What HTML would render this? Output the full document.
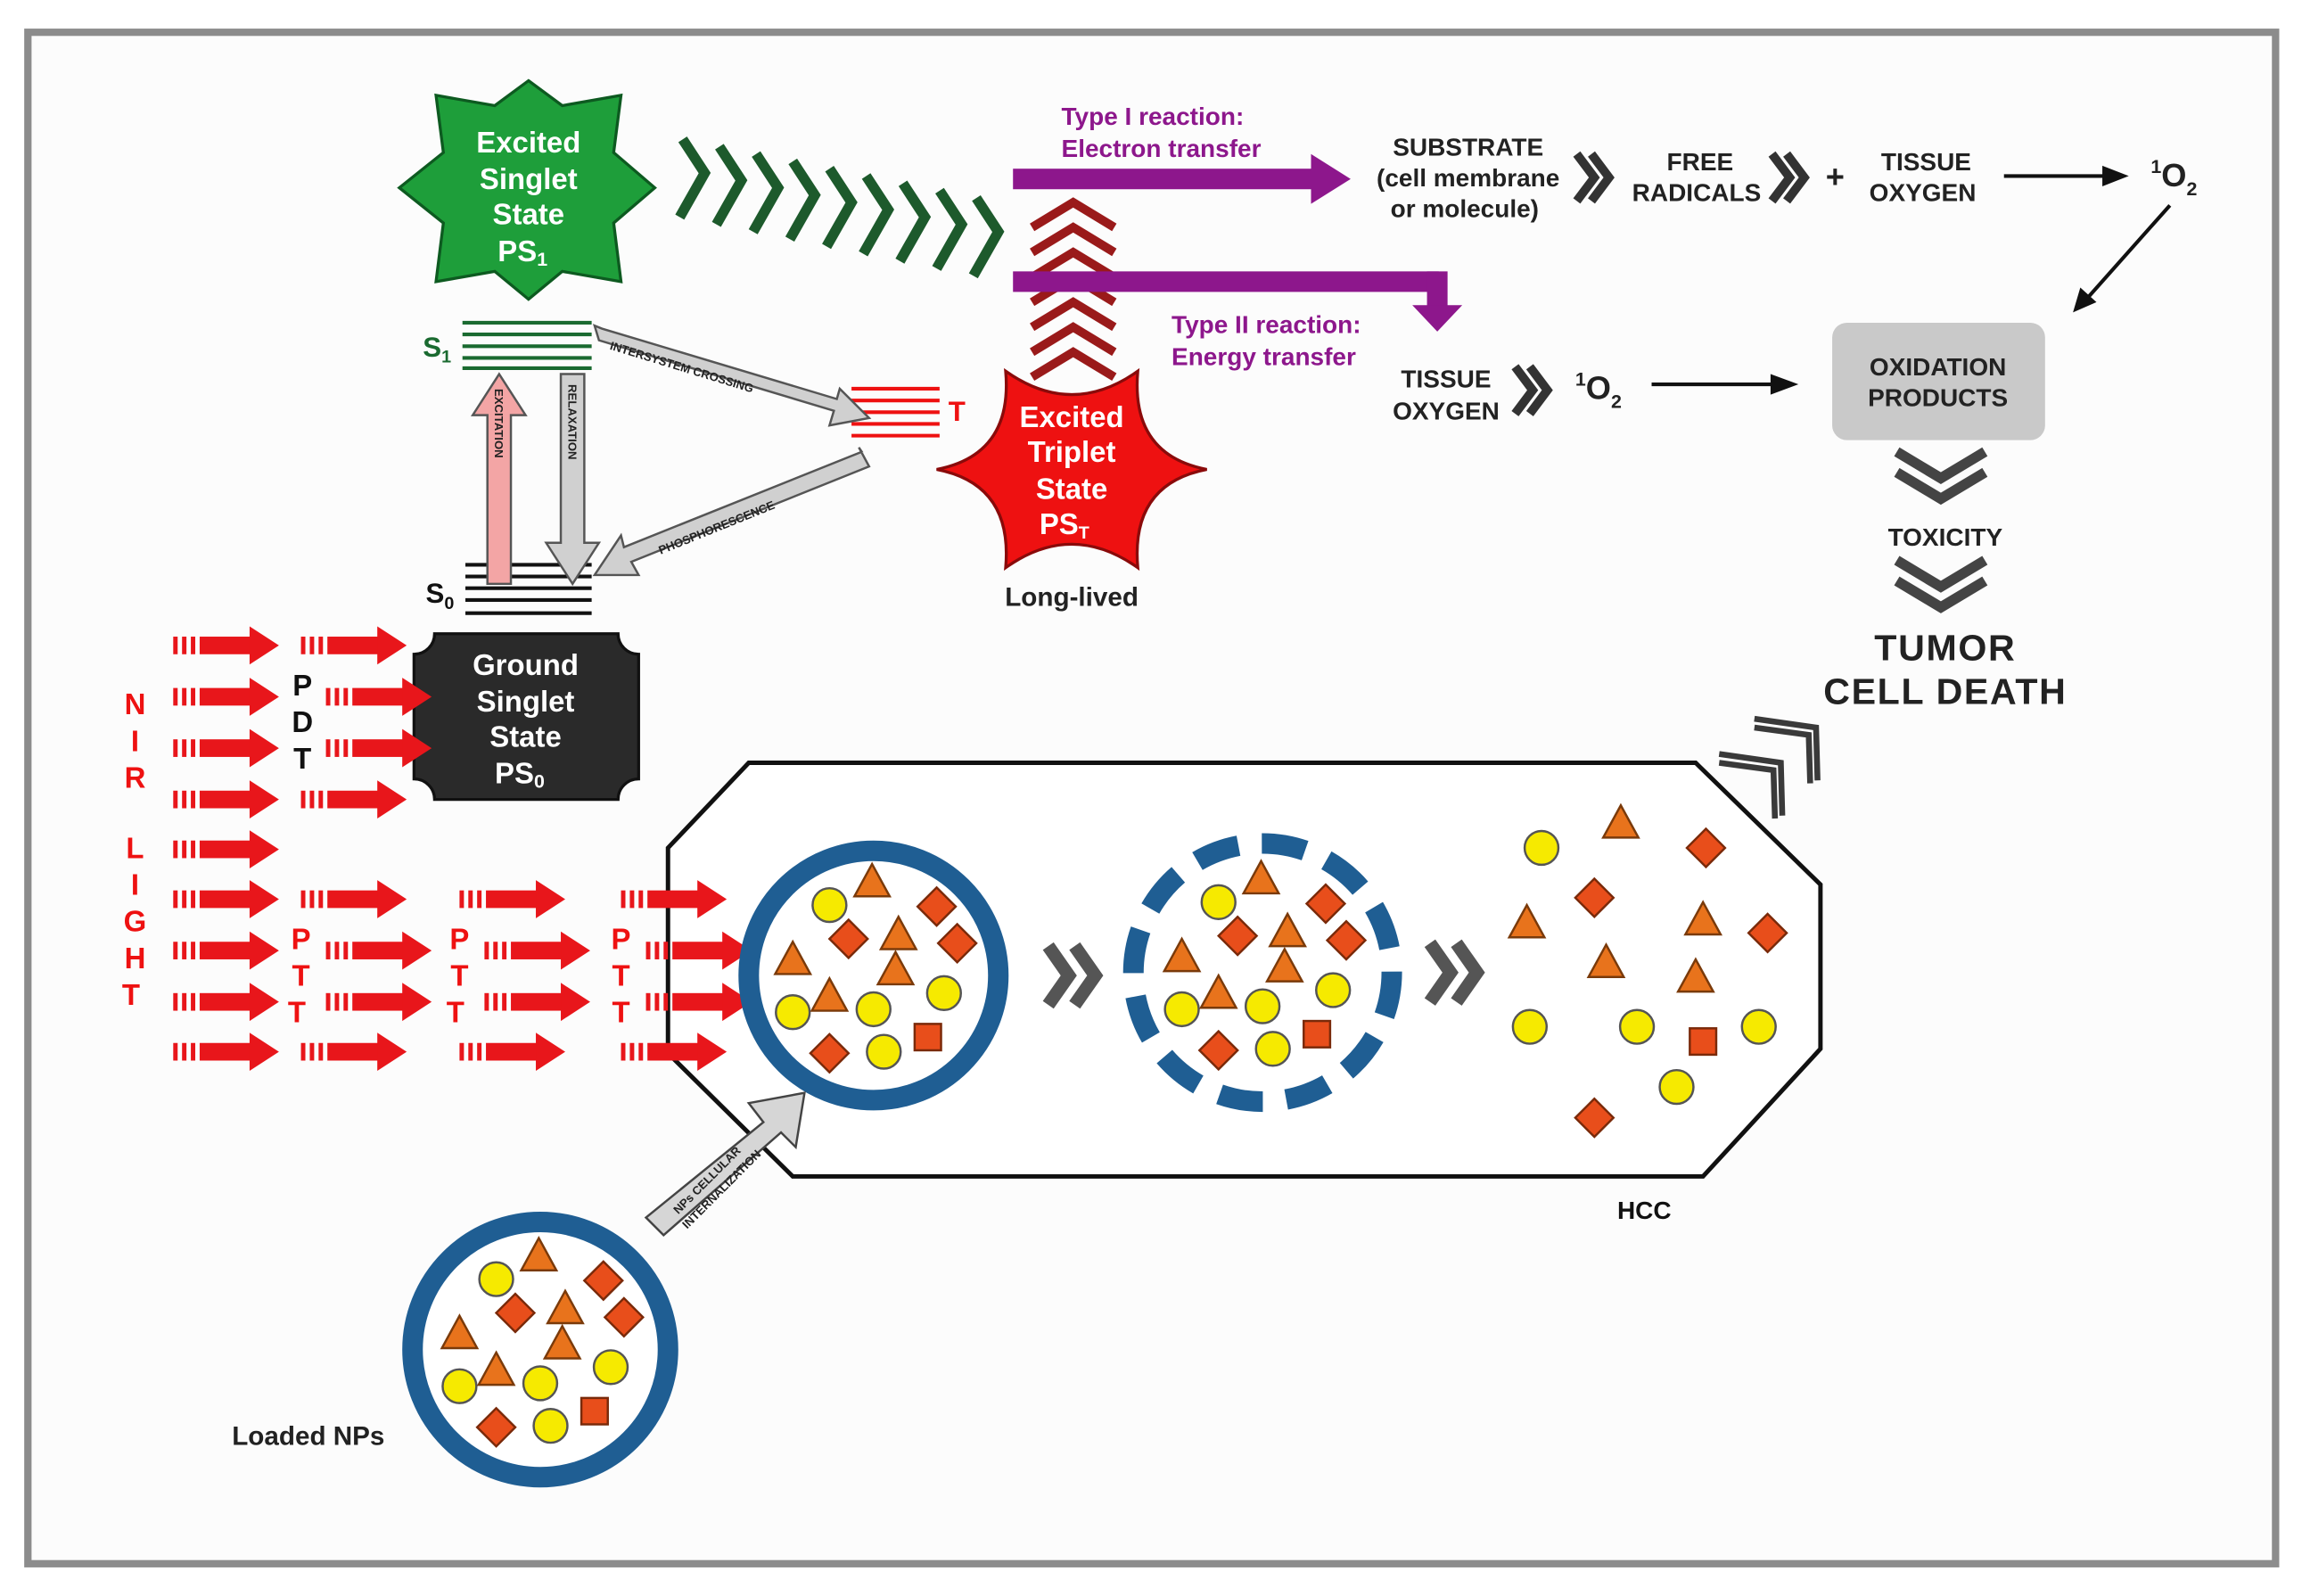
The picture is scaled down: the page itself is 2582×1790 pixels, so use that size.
<!DOCTYPE html>
<html><head><meta charset="utf-8"><style>
html,body{margin:0;padding:0;background:#fff;}
svg{display:block;}
text{font-family:"Liberation Sans",sans-serif;font-weight:bold;}
</style></head><body>
<svg width="2582" height="1790" viewBox="0 0 1568 1088" preserveAspectRatio="none" xmlns="http://www.w3.org/2000/svg">
<defs>
<g id="tri"><polygon points="0,-13 12,9 -12,9" fill="#e8731c" stroke="#7a3a0a" stroke-width="1.5"/></g>
<g id="dia"><polygon points="0,-13 13,0 0,13 -13,0" fill="#e84e1b" stroke="#7a2a0a" stroke-width="1.5"/></g>
<g id="cir"><circle r="11.5" fill="#f6ea00" stroke="#555" stroke-width="1.5"/></g>
<g id="sq"><rect x="-9" y="-9" width="18" height="18" fill="#e84e1b" stroke="#7a2a0a" stroke-width="1.5"/></g>
<g id="ra"><rect x="0" y="-6" width="3" height="12" fill="#e8161b"/><rect x="6" y="-6" width="3" height="12" fill="#e8161b"/><rect x="12" y="-6" width="3" height="12" fill="#e8161b"/><rect x="18" y="-6" width="36" height="12" fill="#e8161b"/><polygon points="52,-13 72,0 52,13" fill="#e8161b"/></g>
<g id="np">
<use href="#cir" x="-30" y="-48"/><use href="#cir" x="-55" y="25"/><use href="#cir" x="0" y="23"/><use href="#cir" x="48" y="12"/><use href="#cir" x="7" y="52"/>
<use href="#tri" x="-1" y="-63"/><use href="#tri" x="-55" y="-10"/><use href="#tri" x="17" y="-27"/><use href="#tri" x="-30" y="15"/><use href="#tri" x="15" y="-3"/>
<use href="#dia" x="43" y="-47"/><use href="#dia" x="-17" y="-25"/><use href="#dia" x="57" y="-22"/><use href="#dia" x="-30" y="53"/>
<use href="#sq" x="37" y="42"/>
</g>
<g id="chev"><polyline points="0,-16 12,0 0,16" fill="none" stroke="#333" stroke-width="6"/><polyline points="10,-16 22,0 10,16" fill="none" stroke="#333" stroke-width="6"/></g>
<g id="gchev"><polyline points="0,-20 14,0 0,20" fill="none" stroke="#555" stroke-width="9"/><polyline points="18,-20 32,0 18,20" fill="none" stroke="#555" stroke-width="9"/></g>
<g id="dchev"><polyline points="-30,-10 0,8 30,-10" fill="none" stroke="#444" stroke-width="7"/><polyline points="-30,4 0,22 30,4" fill="none" stroke="#444" stroke-width="7"/></g>
<g id="ang"><polyline points="-42,-6 0,0 1,36" fill="none" stroke="#3a3a3a" stroke-width="4"/><polyline points="-42,0 -5,5 -4,38" fill="none" stroke="#3a3a3a" stroke-width="4"/></g>
</defs>
<rect x="0" y="0" width="1568" height="1088" fill="#fff"/>
<rect x="19" y="22" width="1531" height="1044" fill="#fcfcfc" stroke="#8c8c8c" stroke-width="5"/>

<polygon fill="#1e9e3a" stroke="#0d5a20" stroke-width="2" points="360,55 383,72 423,65 418,104 446,128 418,152 423,192 383,185 360,204 337,185 297,192 302,152 272,128 302,104 297,65 337,72"/>
<text fill="#fff" font-size="20" text-anchor="middle"><tspan x="360" y="104">Excited</tspan><tspan x="360" y="129">Singlet</tspan><tspan x="360" y="153">State</tspan><tspan x="356" y="178">PS</tspan><tspan font-size="13" dy="3">1</tspan></text>

<g fill="none" stroke="#1d5a2c" stroke-width="7">
<polyline points="465,95 480,118 463,148"/><polyline points="490,100 505,123 488,153"/><polyline points="515,105 530,128 513,158"/><polyline points="540,110 555,133 538,163"/><polyline points="565,115 580,138 563,168"/><polyline points="590,120 605,143 588,173"/><polyline points="615,125 630,148 613,178"/><polyline points="640,130 655,153 638,183"/><polyline points="665,135 680,158 663,188"/>
</g>

<g fill="none" stroke="#9a1a1a" stroke-width="6">
<polyline points="703,155 731,138 759,155"/><polyline points="703,172 731,155 759,172"/><polyline points="703,189 731,172 759,189"/><polyline points="703,206 731,189 759,206"/><polyline points="703,223 731,206 759,223"/><polyline points="703,240 731,223 759,240"/><polyline points="703,257 731,240 759,257"/>
</g>

<rect x="690" y="115" width="205" height="14" fill="#8d178c"/>
<polygon points="893,105 920,122 893,139" fill="#8d178c"/>
<rect x="690" y="185" width="290" height="14" fill="#8d178c"/>
<rect x="972" y="185" width="14" height="25" fill="#8d178c"/>
<polygon points="962,208 996,208 979,226" fill="#8d178c"/>
<text fill="#8d178c" font-size="17"><tspan x="723" y="85">Type I reaction:</tspan><tspan x="723" y="107">Electron transfer</tspan><tspan x="798" y="227">Type II reaction:</tspan><tspan x="798" y="249">Energy transfer</tspan></text>

<text fill="#222" font-size="17" text-anchor="middle"><tspan x="1000" y="106">SUBSTRATE</tspan><tspan x="1000" y="127">(cell membrane</tspan><tspan x="1000" y="148">or molecule)</tspan>
<tspan x="1158" y="116">FREE</tspan><tspan x="1158" y="137">RADICALS</tspan>
<tspan x="1312" y="116">TISSUE</tspan><tspan x="1312" y="137">OXYGEN</tspan>
<tspan x="985" y="264">TISSUE</tspan><tspan x="985" y="286">OXYGEN</tspan></text>
<use href="#chev" x="1074" y="121"/><use href="#chev" x="1207" y="121"/><use href="#chev" x="1032" y="266"/>
<text x="1250" y="128" font-size="22" fill="#222" text-anchor="middle">+</text>
<line x1="1365" y1="120" x2="1435" y2="120" stroke="#111" stroke-width="2.5"/><polygon points="1432,113 1450,120 1432,127" fill="#111"/>
<text x="1465" y="127" font-size="22" fill="#222"><tspan font-size="13" dy="-9">1</tspan><tspan dy="9">O</tspan><tspan font-size="13" dy="6">2</tspan></text>
<line x1="1478" y1="140" x2="1422" y2="203" stroke="#111" stroke-width="2.5"/><polygon points="1412,213 1417,196 1428,206" fill="#111"/>
<text x="1073" y="272" font-size="22" fill="#222"><tspan font-size="13" dy="-9">1</tspan><tspan dy="9">O</tspan><tspan font-size="13" dy="6">2</tspan></text>
<line x1="1125" y1="262" x2="1208" y2="262" stroke="#111" stroke-width="2.5"/><polygon points="1206,255 1225,262 1206,269" fill="#111"/>

<rect x="1248" y="220" width="145" height="80" rx="10" fill="#c9c9c9"/>
<text fill="#222" font-size="17" text-anchor="middle"><tspan x="1320" y="256">OXIDATION</tspan><tspan x="1320" y="277">PRODUCTS</tspan><tspan x="1325" y="372">TOXICITY</tspan></text>
<use href="#dchev" x="1322" y="318"/><use href="#dchev" x="1322" y="392"/>
<text fill="#222" font-size="25" text-anchor="middle" letter-spacing="1"><tspan x="1325" y="450">TUMOR</tspan><tspan x="1325" y="480">CELL DEATH</tspan></text>

<path fill="#ee1111" stroke="#8a0a0a" stroke-width="2" d="M822,320 Q770,330 775,387 Q730,355 685,387 Q690,330 638,320 Q690,310 685,253 Q730,285 775,253 Q770,310 822,320 Z"/>
<text fill="#fff" font-size="20" text-anchor="middle"><tspan x="730" y="291">Excited</tspan><tspan x="730" y="315">Triplet</tspan><tspan x="730" y="340">State</tspan><tspan x="725" y="364">PS</tspan><tspan font-size="12" dy="3">T</tspan></text>
<text x="730" y="413" font-size="18" fill="#222" text-anchor="middle" font-weight="normal">Long-lived</text>

<g stroke="#1a6a30" stroke-width="2.5"><line x1="315" y1="220" x2="403" y2="220"/><line x1="315" y1="228" x2="403" y2="228"/><line x1="315" y1="236" x2="403" y2="236"/><line x1="315" y1="244" x2="403" y2="244"/><line x1="315" y1="251" x2="403" y2="251"/></g>
<g stroke="#111" stroke-width="2.5"><line x1="317" y1="385" x2="403" y2="385"/><line x1="317" y1="393" x2="403" y2="393"/><line x1="317" y1="401" x2="403" y2="401"/><line x1="317" y1="409" x2="403" y2="409"/><line x1="317" y1="418" x2="403" y2="418"/></g>
<g stroke="#ee1111" stroke-width="2.5"><line x1="580" y1="265" x2="640" y2="265"/><line x1="580" y1="273" x2="640" y2="273"/><line x1="580" y1="281" x2="640" y2="281"/><line x1="580" y1="289" x2="640" y2="289"/><line x1="580" y1="297" x2="640" y2="297"/></g>
<text x="288" y="243" font-size="19" fill="#1a6a30">S<tspan font-size="12" dy="4">1</tspan></text>
<text x="290" y="411" font-size="19" fill="#111">S<tspan font-size="12" dy="4">0</tspan></text>
<text x="646" y="287" font-size="19" fill="#ee1111">T</text>

<polygon points="332,398 332,283 322,283 340,255 358,283 348,283 348,398" fill="#f3a5a5" stroke="#555" stroke-width="1.5"/>
<polygon points="382,255 382,370 372,370 390,398 408,370 398,370 398,255" fill="#d0d0d0" stroke="#555" stroke-width="1.5"/>
<polygon points="405,222 408,232 568,280 565,290 592,285 572,265 570,272 410,224" fill="#d0d0d0" stroke="#555" stroke-width="1.5"/>
<polygon points="585,305 592,318 430,383 435,392 405,392 423,365 425,373 587,308" fill="#d0d0d0" stroke="#555" stroke-width="1.5"/>
<text font-size="8" fill="#222" transform="translate(415,238) rotate(17)">INTERSYSTEM CROSSING</text>
<text font-size="8" fill="#222" transform="translate(450,378) rotate(-22)">PHOSPHORESCENCE</text>
<text font-size="8" fill="#222" transform="translate(337,265) rotate(90)">EXCITATION</text>
<text font-size="8" fill="#222" transform="translate(387,262) rotate(90)">RELAXATION</text>

<path fill="#2a2a2a" stroke="#111" stroke-width="2" d="M296,432 L421,432 A14,14 0 0 0 435,446 L435,531 A14,14 0 0 0 421,545 L296,545 A14,14 0 0 0 282,531 L282,446 A14,14 0 0 0 296,432 Z"/>
<text fill="#fff" font-size="20" text-anchor="middle"><tspan x="358" y="460">Ground</tspan><tspan x="358" y="485">Singlet</tspan><tspan x="358" y="509">State</tspan><tspan x="354" y="534">PS</tspan><tspan font-size="13" dy="3">0</tspan></text>

<!-- HCC cell (drawn before arrows) -->
<polygon points="510,520 1155,520 1240,603 1240,715 1160,802 540,802 455,718 455,578" fill="#fff" stroke="#111" stroke-width="3"/>
<text x="1120" y="831" font-size="17" fill="#111" text-anchor="middle">HCC</text>

<g>
<use href="#ra" x="118" y="440"/><use href="#ra" x="118" y="475"/><use href="#ra" x="118" y="510"/><use href="#ra" x="118" y="545"/><use href="#ra" x="118" y="579"/><use href="#ra" x="118" y="613"/><use href="#ra" x="118" y="648"/><use href="#ra" x="118" y="683"/><use href="#ra" x="118" y="717"/>
<use href="#ra" x="205" y="440"/><use href="#ra" x="222" y="475"/><use href="#ra" x="222" y="510"/><use href="#ra" x="205" y="545"/><use href="#ra" x="205" y="613"/><use href="#ra" x="222" y="648"/><use href="#ra" x="222" y="683"/><use href="#ra" x="205" y="717"/>
<use href="#ra" x="313" y="613"/><use href="#ra" x="330" y="648"/><use href="#ra" x="330" y="683"/><use href="#ra" x="313" y="717"/>
<use href="#ra" x="423" y="613"/><use href="#ra" x="440" y="648"/><use href="#ra" x="440" y="683"/><use href="#ra" x="423" y="717"/>
</g>
<text fill="#ee1111" font-size="20" text-anchor="middle"><tspan x="92" y="487">N</tspan><tspan x="92" y="512">I</tspan><tspan x="92" y="537">R</tspan><tspan x="92" y="585">L</tspan><tspan x="92" y="610">I</tspan><tspan x="92" y="635">G</tspan><tspan x="92" y="660">H</tspan><tspan x="92" y="685">T</tspan>
<tspan x="205" y="647">P</tspan><tspan x="205" y="672">T</tspan><tspan x="205" y="697">T</tspan>
<tspan x="313" y="647">P</tspan><tspan x="313" y="672">T</tspan><tspan x="313" y="697">T</tspan>
<tspan x="423" y="647">P</tspan><tspan x="423" y="672">T</tspan><tspan x="423" y="697">T</tspan></text>
<text fill="#111" font-size="20" text-anchor="middle"><tspan x="206" y="474">P</tspan><tspan x="206" y="499">D</tspan><tspan x="206" y="524">T</tspan></text>

<circle cx="595" cy="665" r="85" fill="#fff" stroke="#1f5e93" stroke-width="14"/>
<use href="#np" x="595" y="665"/>
<circle cx="860" cy="663" r="88" fill="#fff" stroke="#1f5e93" stroke-width="14" stroke-dasharray="30,16"/>
<use href="#np" x="860" y="663"/>
<use href="#gchev" x="714" y="665"/><use href="#gchev" x="974" y="663"/>

<use href="#cir" x="1050" y="578"/><use href="#tri" x="1104" y="562"/><use href="#dia" x="1162" y="578"/>
<use href="#tri" x="1040" y="630"/><use href="#dia" x="1086" y="612"/><use href="#tri" x="1160" y="628"/><use href="#dia" x="1204" y="636"/>
<use href="#tri" x="1094" y="657"/><use href="#tri" x="1155" y="667"/>
<use href="#cir" x="1042" y="700"/><use href="#cir" x="1115" y="700"/><use href="#sq" x="1160" y="710"/><use href="#cir" x="1198" y="700"/>
<use href="#cir" x="1142" y="741"/><use href="#dia" x="1086" y="762"/>

<use href="#ang" x="1213" y="520"/>
<use href="#ang" x="1237" y="496"/>

<circle cx="368" cy="920" r="87" fill="#fff" stroke="#1f5e93" stroke-width="14"/>
<use href="#np" x="368" y="920"/>
<text x="210" y="985" font-size="18" fill="#222" text-anchor="middle">Loaded NPs</text>
<polygon points="440,830 520,765 510,752 548,745 542,782 532,772 452,842" fill="#d6d6d6" stroke="#444" stroke-width="1.5"/>
<text font-size="8" fill="#222" transform="translate(462,828) rotate(-45)">NPs CELLULAR</text>
<text font-size="8" fill="#222" transform="translate(468,838) rotate(-45)">INTERNALIZATION</text>
</svg>
</body></html>
